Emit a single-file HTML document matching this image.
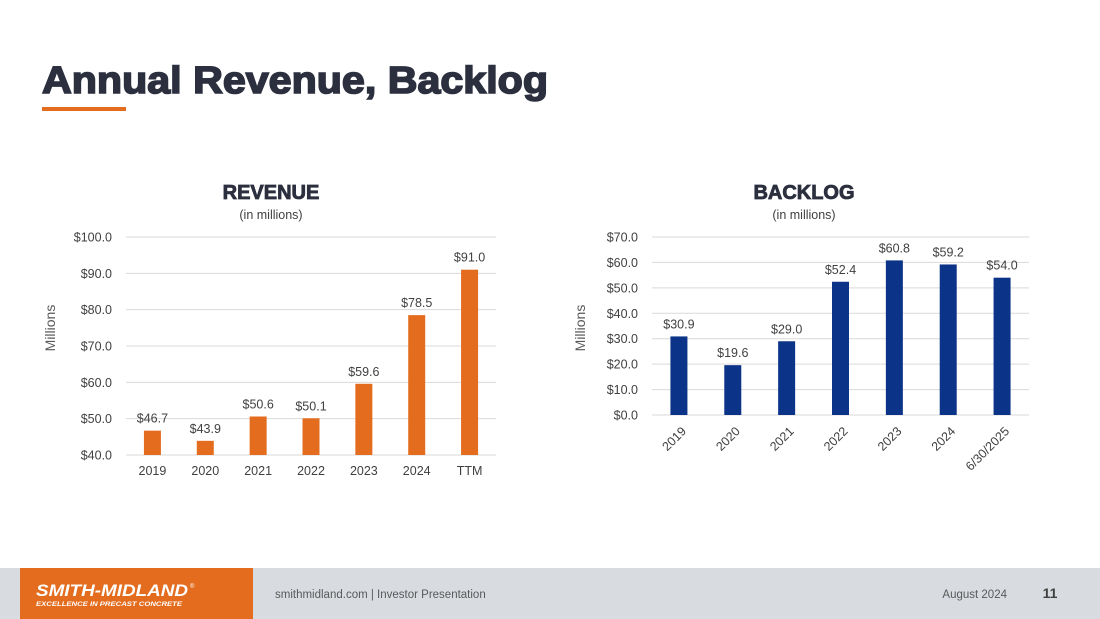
<!DOCTYPE html>
<html><head><meta charset="utf-8"><style>
html,body{margin:0;padding:0;background:#fff;}
svg{display:block;font-family:"Liberation Sans",Arial,sans-serif;}
</style></head><body>
<svg id="page" width="1100" height="619" viewBox="0 0 1100 619">
<text x="42" y="93" font-size="38" font-weight="bold" fill="#2b2f3e" stroke="#2b2f3e" stroke-width="1.6" textLength="506" lengthAdjust="spacingAndGlyphs">Annual Revenue, Backlog</text>
<rect x="42" y="107" width="84" height="4" fill="#e36c1e"/>

<text x="271" y="199" font-size="20" font-weight="bold" fill="#2b2f3e" stroke="#2b2f3e" stroke-width="0.8" text-anchor="middle">REVENUE</text>
<text x="271" y="219" font-size="12.5" fill="#404040" text-anchor="middle">(in millions)</text>
<text transform="translate(55,328) rotate(-90)" font-size="14" fill="#595959" text-anchor="middle">Millions</text>
<g id="rev"></g>

<text x="804" y="199" font-size="20" font-weight="bold" fill="#2b2f3e" stroke="#2b2f3e" stroke-width="0.8" text-anchor="middle">BACKLOG</text>
<text x="804" y="219" font-size="12.5" fill="#404040" text-anchor="middle">(in millions)</text>
<text transform="translate(585,328) rotate(-90)" font-size="14" fill="#595959" text-anchor="middle">Millions</text>
<g id="bkl"></g>

<rect x="0" y="568" width="1100" height="51" fill="#d8dce1"/>
<rect x="20" y="568" width="233" height="51" fill="#e36c1e"/>
<text x="36" y="596" font-size="17" font-weight="bold" font-style="italic" fill="#fff" textLength="152" lengthAdjust="spacingAndGlyphs">SMITH-MIDLAND</text>
<text x="190" y="588" font-size="6" fill="#fff">®</text>
<text x="36" y="606" font-size="6.5" font-weight="bold" font-style="italic" fill="#fff" textLength="146" lengthAdjust="spacingAndGlyphs">EXCELLENCE IN PRECAST CONCRETE</text>
<text x="275" y="598" font-size="11.5" fill="#595959">smithmidland.com | Investor Presentation</text>
<text x="1007" y="598" font-size="11.5" fill="#595959" text-anchor="end">August 2024</text>
<text x="1050" y="598" font-size="14" font-weight="bold" fill="#404040" text-anchor="middle">11</text>
</svg>
<script>
const revCategories = ["2019","2020","2021","2022","2023","2024","TTM"];
const revValues = [46.7,43.9,50.6,50.1,59.6,78.5,91.0];
const revTicks = [40,50,60,70,80,90,100];
const bklCategories = ["2019","2020","2021","2022","2023","2024","6/30/2025"];
const bklValues = [30.9,19.6,29.0,52.4,60.8,59.2,54.0];
const bklTicks = [0,10,20,30,40,50,60,70];
const NS="http://www.w3.org/2000/svg";
function mk(parent,tag,attrs,txt){const e=document.createElementNS(NS,tag);for(const k in attrs)e.setAttribute(k,attrs[k]);if(txt!==undefined)e.textContent=txt;parent.appendChild(e);return e;}
function chart(g,cats,vals,ticks,o){
  const min=ticks[0],max=ticks[ticks.length-1];
  const y=v=>o.y0-(v-min)/(max-min)*(o.y0-o.y1);
  const step=(o.x1-o.x0)/cats.length;
  const x=i=>o.x0+step*(i+0.5);
  ticks.forEach(t=>{
    const l=mk(g,'line',{x1:o.x0,x2:o.x1,y1:y(t),y2:y(t),stroke:'#d9d9d9','stroke-width':1});
    
    
    const tx=mk(g,'text',{x:o.x0-14,y:y(t)+4.5,'font-size':12.5,fill:'#404040','text-anchor':'end'},'$'+t.toFixed(1));
    
    
  });
  vals.forEach((v,i)=>{
    const b=mk(g,'rect',{x:x(i)-8.5,y:y(v),width:17,height:y(min)-y(v),fill:o.color});
    
    
    const lb=mk(g,'text',{x:x(i),y:y(v)-8,'font-size':12.5,fill:'#404040','text-anchor':'middle'},'$'+v.toFixed(1));
    
    
    let c;
    if(o.rot){c=mk(g,'text',{transform:`translate(${x(i)+8},${o.y0+17}) rotate(-45)`,'font-size':12.5,fill:'#404040','text-anchor':'end'},cats[i]);}
    else{c=mk(g,'text',{x:x(i),y:o.y0+20,'font-size':12.5,fill:'#404040','text-anchor':'middle'},cats[i]);}
    
    
  });
}
chart(document.getElementById('rev'),revCategories,revValues,revTicks,{x0:126,x1:496,y0:455,y1:237,color:'#e36c1e',rot:false});
chart(document.getElementById('bkl'),bklCategories,bklValues,bklTicks,{x0:652,x1:1029,y0:415,y1:237,color:'#0b3388',rot:true});
</script>
</body></html>
